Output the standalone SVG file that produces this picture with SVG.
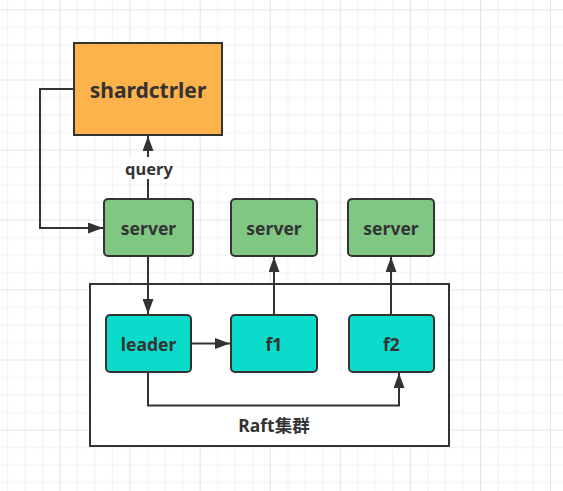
<svg xmlns="http://www.w3.org/2000/svg" width="563" height="491" viewBox="0 0 563 491">
  <style>
    .box { stroke: #333333; stroke-width: 2; }
    .ctrl { fill: #FDB24B; }
    .srv { fill: #80C783; }
    .raft { fill: #0BDBCA; }
    .lbl { font-family: "Noto Sans", "Open Sans", "Noto Sans CJK SC", sans-serif; font-weight: bold; fill: #333333; text-anchor: middle; dominant-baseline: central; }
    .edge { fill: none; stroke: #333333; stroke-width: 2; }
  </style>
  <defs>
    <pattern id="grid" patternUnits="userSpaceOnUse" x="59.5" y="9.5" width="70.08" height="70">
      <g stroke="#efefef" stroke-width="1">
        <line x1="18.02" y1="0" x2="18.02" y2="70"/>
        <line x1="35.54" y1="0" x2="35.54" y2="70"/>
        <line x1="53.06" y1="0" x2="53.06" y2="70"/>
        <line x1="0" y1="18" x2="70.08" y2="18"/>
        <line x1="0" y1="35.5" x2="70.08" y2="35.5"/>
        <line x1="0" y1="53" x2="70.08" y2="53"/>
      </g>
      <g stroke="#e3e3e3" stroke-width="1">
        <line x1="0.5" y1="0" x2="0.5" y2="70"/>
        <line x1="0" y1="0.5" x2="70.08" y2="0.5"/>
      </g>
    </pattern>
    <marker id="arrow" markerUnits="userSpaceOnUse" markerWidth="15" markerHeight="11" refX="15" refY="5.5" orient="auto">
      <path d="M0,0 L15,5.5 L0,11 z" fill="#333333"/>
    </marker>
  </defs>

  <rect x="0" y="0" width="563" height="491" fill="#ffffff"/>
  <rect x="0" y="0" width="563" height="491" fill="url(#grid)"/>

  <g id="raft-cluster">
    <rect class="box" x="90" y="284" width="359" height="162" fill="#ffffff"/>
    <text class="lbl" x="274" y="425" font-size="17.5">Raft集群</text>
  </g>

  <g id="shardctrler">
    <rect class="box ctrl" x="74" y="43" width="148" height="92"/>
    <text class="lbl" x="148" y="90" font-size="21">shardctrler</text>
  </g>

  <g id="server1">
    <rect class="box srv" x="104" y="199" width="89" height="57" rx="4"/>
    <text class="lbl" x="148.5" y="228" font-size="17.5">server</text>
  </g>
  <g id="server2">
    <rect class="box srv" x="231" y="199" width="86" height="57" rx="4"/>
    <text class="lbl" x="274" y="228" font-size="17.5">server</text>
  </g>
  <g id="server3">
    <rect class="box srv" x="348" y="199" width="86" height="57" rx="4"/>
    <text class="lbl" x="391" y="228" font-size="17.5">server</text>
  </g>

  <g id="leader">
    <rect class="box raft" x="106" y="315" width="85" height="57" rx="4"/>
    <text class="lbl" x="148.5" y="344" font-size="17.5">leader</text>
  </g>
  <g id="f1">
    <rect class="box raft" x="231" y="315" width="86" height="57" rx="4"/>
    <text class="lbl" x="274" y="344" font-size="17.5">f1</text>
  </g>
  <g id="f2">
    <rect class="box raft" x="349" y="315" width="85" height="57" rx="4"/>
    <text class="lbl" x="391.5" y="344" font-size="17.5">f2</text>
  </g>

  <g id="connectors">
    <path class="edge" d="M74,89 H40 V228 H103" marker-end="url(#arrow)"/>
    <path class="edge" d="M148,199 V136" marker-end="url(#arrow)"/>
    <rect x="121" y="157" width="56" height="22" fill="#ffffff"/>
    <text class="lbl" x="149" y="168" font-size="16.5">query</text>
    <path class="edge" d="M148,256 V314" marker-end="url(#arrow)"/>
    <path class="edge" d="M191,343.5 H230" marker-end="url(#arrow)"/>
    <path class="edge" d="M274,315 V257" marker-end="url(#arrow)"/>
    <path class="edge" d="M391,315 V257" marker-end="url(#arrow)"/>
    <path class="edge" d="M148,372 V405.5 H399 V373" marker-end="url(#arrow)"/>
  </g>
</svg>
